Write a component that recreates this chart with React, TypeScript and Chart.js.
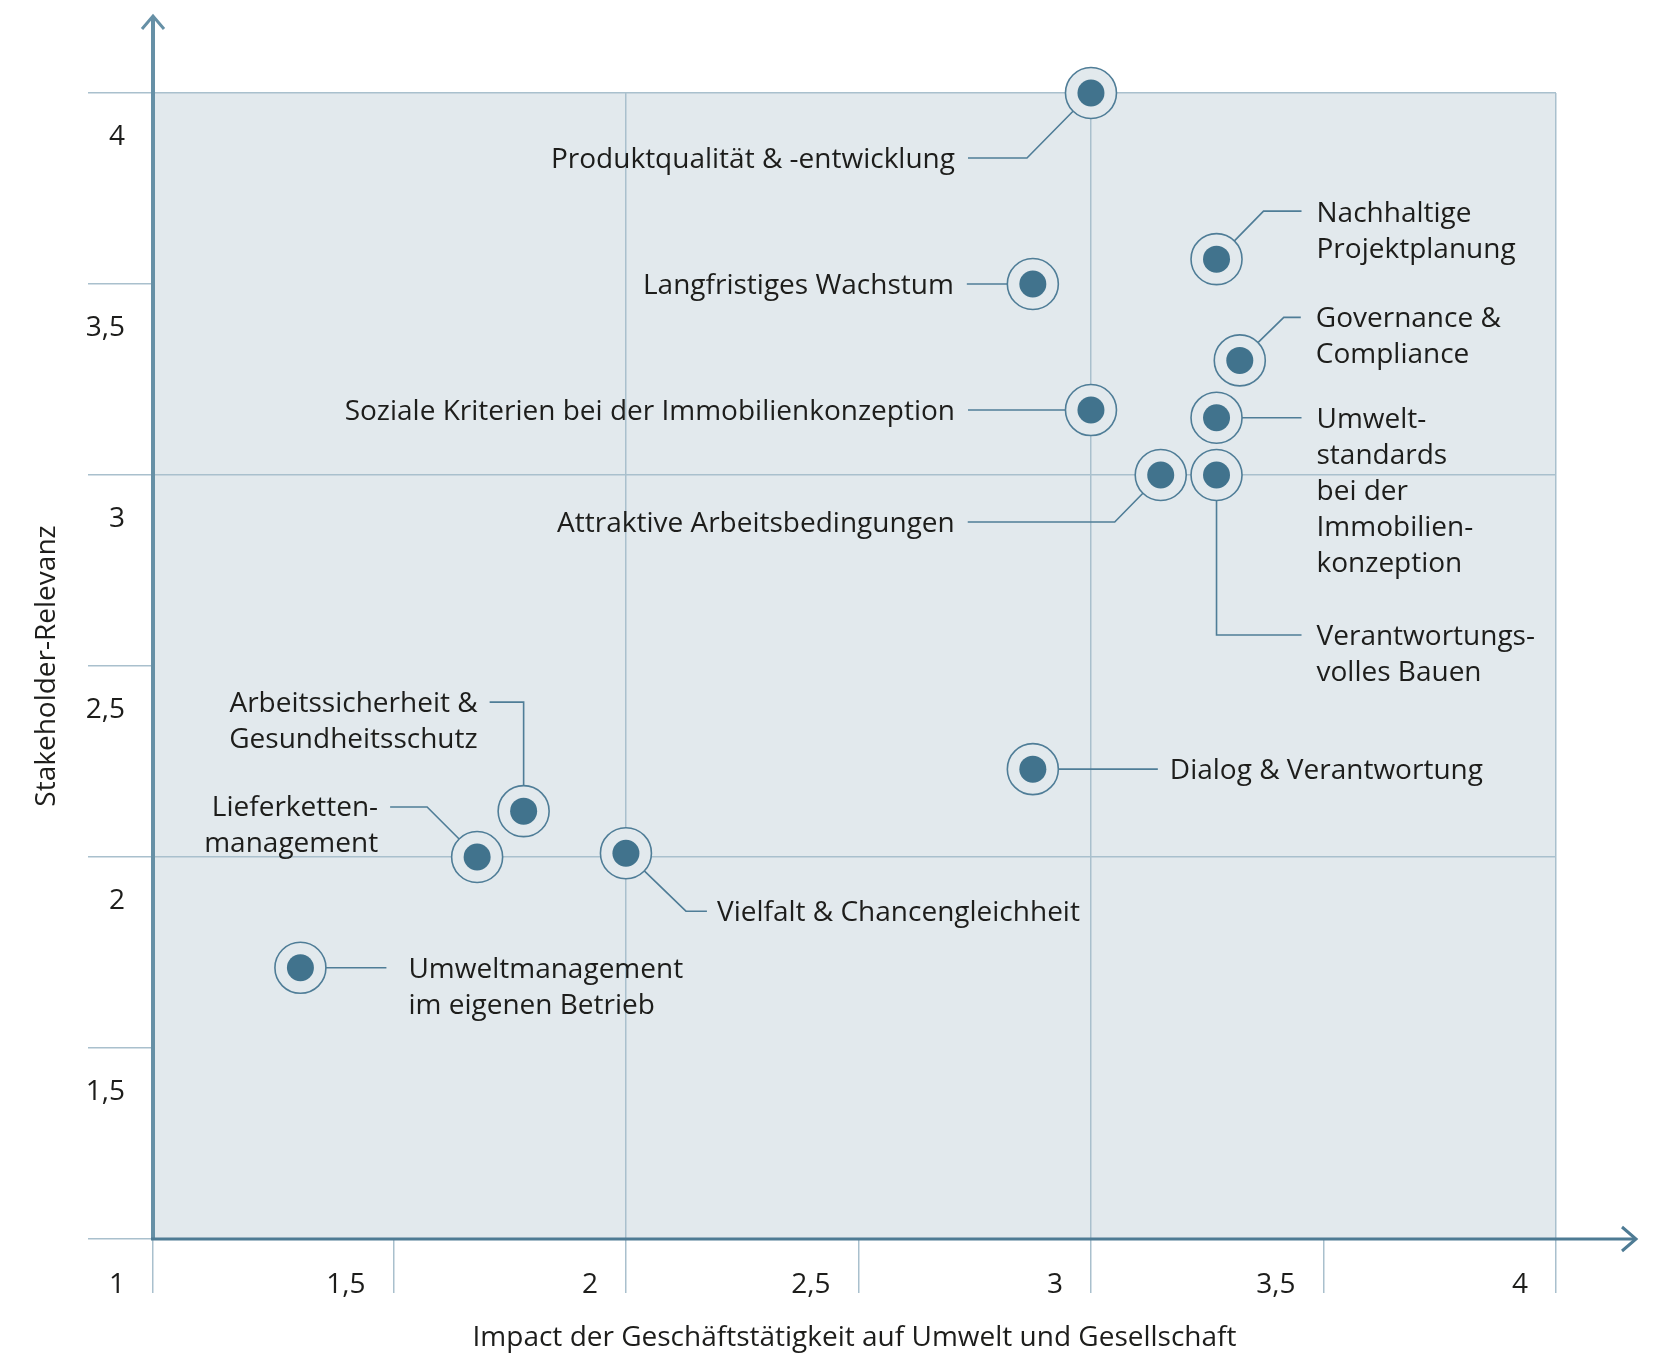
import React, { useEffect, useRef } from "react";
import { Chart, registerables } from "chart.js";

Chart.register(...registerables);

// ---- data ----
const topics = [
  "Produktqualität & -entwicklung",
  "Nachhaltige Projektplanung",
  "Langfristiges Wachstum",
  "Governance & Compliance",
  "Soziale Kriterien bei der Immobilienkonzeption",
  "Umweltstandards bei der Immobilienkonzeption",
  "Attraktive Arbeitsbedingungen",
  "Verantwortungsvolles Bauen",
  "Dialog & Verantwortung",
  "Arbeitssicherheit & Gesundheitsschutz",
  "Lieferkettenmanagement",
  "Vielfalt & Chancengleichheit",
  "Umweltmanagement im eigenen Betrieb",
];
const impact = [3.0, 3.27, 2.875, 3.32, 3.0, 3.27, 3.15, 3.27, 2.875, 1.78, 1.68, 2.0, 1.3];
const relevance = [4.0, 3.565, 3.5, 3.3, 3.17, 3.15, 3.0, 3.0, 2.23, 2.12, 2.0, 2.01, 1.71];

const labelLines = [
  ["Produktqualität & -entwicklung"],
  ["Nachhaltige", "Projektplanung"],
  ["Langfristiges Wachstum"],
  ["Governance &", "Compliance"],
  ["Soziale Kriterien bei der Immobilienkonzeption"],
  ["Umwelt-", "standards", "bei der", "Immobilien-", "konzeption"],
  ["Attraktive Arbeitsbedingungen"],
  ["Verantwortungs-", "volles Bauen"],
  ["Dialog & Verantwortung"],
  ["Arbeitssicherheit &", "Gesundheitsschutz"],
  ["Lieferketten-", "management"],
  ["Vielfalt & Chancengleichheit"],
  ["Umweltmanagement", "im eigenen Betrieb"],
];

// the y axis crosses the x axis slightly left of 1; its tick there carries the label "1"
const X_MIN = 0.983;
const xTickValues = [X_MIN, 1.5, 2, 2.5, 3, 3.5, 4];
const xTickLabels = ["1", "1,5", "2", "2,5", "3", "3,5", "4"];
const yTickLabels = ["1", "1,5", "2", "2,5", "3", "3,5", "4"];
const xTitle = "Impact der Geschäftstätigkeit auf Umwelt und Gesellschaft";
const yTitle = "Stakeholder-Relevanz";

// ---- label layout (pixel offsets relative to the marker) ----
type Layout = { path: number[][]; tx: number; ty: number; align: "left" | "right" };
const layouts: Layout[] = [
  { path: [[0, 0], [-64, 65], [-123, 65]], tx: -136, ty: 65, align: "right" },
  { path: [[0, 0], [47, -48], [85, -48]], tx: 100, ty: -47, align: "left" },
  { path: [[0, 0], [-66, 0]], tx: -79, ty: 0, align: "right" },
  { path: [[0, 0], [44, -43], [61, -43]], tx: 76, ty: -43, align: "left" },
  { path: [[0, 0], [-123, 0]], tx: -136, ty: 0, align: "right" },
  { path: [[0, 0], [85, 0]], tx: 100, ty: 0, align: "left" },
  { path: [[0, 0], [-46, 47], [-193, 47]], tx: -206, ty: 47, align: "right" },
  { path: [[0, 0], [0, 160], [85, 160]], tx: 100, ty: 160, align: "left" },
  { path: [[0, 0], [125, 0]], tx: 137, ty: 0, align: "left" },
  { path: [[0, 0], [0, -109], [-34, -109]], tx: -46, ty: -109, align: "right" },
  { path: [[0, 0], [-50, -50], [-87, -50]], tx: -99, ty: -51, align: "right" },
  { path: [[0, 0], [60, 58], [81, 58]], tx: 91, ty: 58, align: "left" },
  { path: [[0, 0], [86, 0]], tx: 108, ty: 0, align: "left" },
];

const FONT = "'Open Sans', sans-serif";
const FONT_SIZE = 28;
const LINE_H = 36;
const TEXT_SHIFT = 2;
const TEXT_COLOR = "#1d1d1b";
const PLOT_BG = "#e2e9ed";
const GRID = "#a9c0cd";
const DOT = "#41738d";
const RING = "#4f7d97";

const gridColor = (c: any) =>
  c.tick && Math.abs(c.tick.value - Math.round(c.tick.value)) < 1e-9 ? GRID : "rgba(0,0,0,0)";

const decorPlugin = {
  id: "decor",
  beforeDraw(chart: any) {
    const { ctx, chartArea: a } = chart;
    ctx.save();
    ctx.fillStyle = "#ffffff";
    ctx.fillRect(0, 0, chart.width, chart.height);
    ctx.fillStyle = PLOT_BG;
    ctx.fillRect(a.left, a.top, a.right - a.left, a.bottom - a.top);
    ctx.restore();
  },
  beforeDatasetsDraw(chart: any) {
    const { ctx, chartArea: a } = chart;
    const xs = chart.scales.x;
    const ys = chart.scales.y;
    ctx.save();
    // leader lines
    ctx.strokeStyle = RING;
    ctx.lineWidth = 1.6;
    for (let i = 0; i < impact.length; i++) {
      const px = xs.getPixelForValue(impact[i]);
      const py = ys.getPixelForValue(relevance[i]);
      const L = layouts[i];
      ctx.beginPath();
      L.path.forEach((p, k) => {
        if (k === 0) ctx.moveTo(px + p[0], py + p[1]);
        else ctx.lineTo(px + p[0], py + p[1]);
      });
      ctx.stroke();
    }
    // y axis with arrow
    ctx.strokeStyle = "#6690a6";
    ctx.lineWidth = 4;
    ctx.beginPath();
    ctx.moveTo(a.left, a.bottom + 1);
    ctx.lineTo(a.left, 16);
    ctx.stroke();
    ctx.lineWidth = 3;
    ctx.beginPath();
    ctx.moveTo(a.left - 11, 29);
    ctx.lineTo(a.left, 16);
    ctx.lineTo(a.left + 11, 29);
    ctx.stroke();
    // x axis with arrow
    ctx.strokeStyle = "#4e7b94";
    ctx.lineWidth = 3;
    ctx.beginPath();
    ctx.moveTo(a.left - 2, a.bottom);
    ctx.lineTo(1636, a.bottom);
    ctx.stroke();
    ctx.beginPath();
    ctx.moveTo(1622, a.bottom - 12);
    ctx.lineTo(1636, a.bottom);
    ctx.lineTo(1622, a.bottom + 12);
    ctx.stroke();
    ctx.restore();
  },
  afterDraw(chart: any) {
    const { ctx, chartArea: a } = chart;
    const xs = chart.scales.x;
    const ys = chart.scales.y;
    ctx.save();
    ctx.fillStyle = TEXT_COLOR;
    ctx.font = `${FONT_SIZE}px ${FONT}`;
    ctx.textBaseline = "middle";
    // tick labels
    ctx.textAlign = "right";
    xs.ticks.forEach((t: any, i: number) => {
      ctx.fillText(xTickLabels[i], xs.getPixelForValue(t.value) - 28, a.bottom + 46);
    });
    ys.ticks.forEach((t: any, i: number) => {
      if (i === 0) return; // shares the corner label with the x axis
      ctx.fillText(yTickLabels[i], a.left - 28, ys.getPixelForValue(t.value) + 44);
    });
    // topic labels
    for (let i = 0; i < impact.length; i++) {
      const px = xs.getPixelForValue(impact[i]);
      const py = ys.getPixelForValue(relevance[i]);
      const L = layouts[i];
      ctx.textAlign = L.align;
      labelLines[i].forEach((line, k) => {
        ctx.fillText(line, px + L.tx, py + L.ty + k * LINE_H + TEXT_SHIFT);
      });
    }
    ctx.restore();
  },
};

export default function App() {
  const ref = useRef<HTMLCanvasElement | null>(null);
  useEffect(() => {
    if (!ref.current) return;
    const pts = impact.map((x, i) => ({ x, y: relevance[i] }));
    const chart = new Chart(ref.current, {
      type: "scatter",
      data: {
        datasets: [
          {
            label: "Themen",
            data: pts,
            pointRadius: 13.5,
            pointHoverRadius: 13.5,
            backgroundColor: DOT,
            borderWidth: 0,
            clip: false as any,
          },
          {
            label: "Ring",
            data: pts,
            pointRadius: 25.5,
            pointHoverRadius: 25.5,
            backgroundColor: PLOT_BG,
            borderColor: RING,
            borderWidth: 1.6,
            clip: false as any,
          },
        ],
      },
      options: {
        animation: false,
        responsive: true,
        maintainAspectRatio: false,
        devicePixelRatio: 1,
        layout: { padding: { left: 31, top: 93, right: 101, bottom: 3 } },
        plugins: { legend: { display: false }, tooltip: { enabled: false } },
        events: [],
        scales: {
          x: {
            type: "linear",
            min: X_MIN,
            max: 4,
            afterBuildTicks: (axis: any) => {
              axis.ticks = xTickValues.map((v) => ({ value: v }));
            },
            ticks: { display: false },
            grid: { color: gridColor, lineWidth: 1.5, drawTicks: true, tickLength: 54, tickColor: GRID },
            border: { display: false },
            title: {
              display: true,
              text: xTitle,
              color: TEXT_COLOR,
              font: { family: FONT, size: FONT_SIZE, lineHeight: 1 },
              padding: { top: 31, bottom: 0 },
            },
          },
          y: {
            type: "linear",
            min: 1,
            max: 4,
            ticks: { stepSize: 0.5, display: false },
            grid: { color: gridColor, lineWidth: 1.5, drawTicks: true, tickLength: 65, tickColor: GRID },
            border: { display: false },
            title: {
              display: true,
              text: yTitle,
              color: TEXT_COLOR,
              font: { family: FONT, size: FONT_SIZE, lineHeight: 1 },
              padding: { top: 2, bottom: 27 },
            },
          },
        },
      },
      plugins: [decorPlugin],
    });
    return () => chart.destroy();
  }, []);
  return (
    <div style={{ position: "absolute", left: 0, top: 0, width: 1657, height: 1355 }}>
      <canvas ref={ref} />
    </div>
  );
}
